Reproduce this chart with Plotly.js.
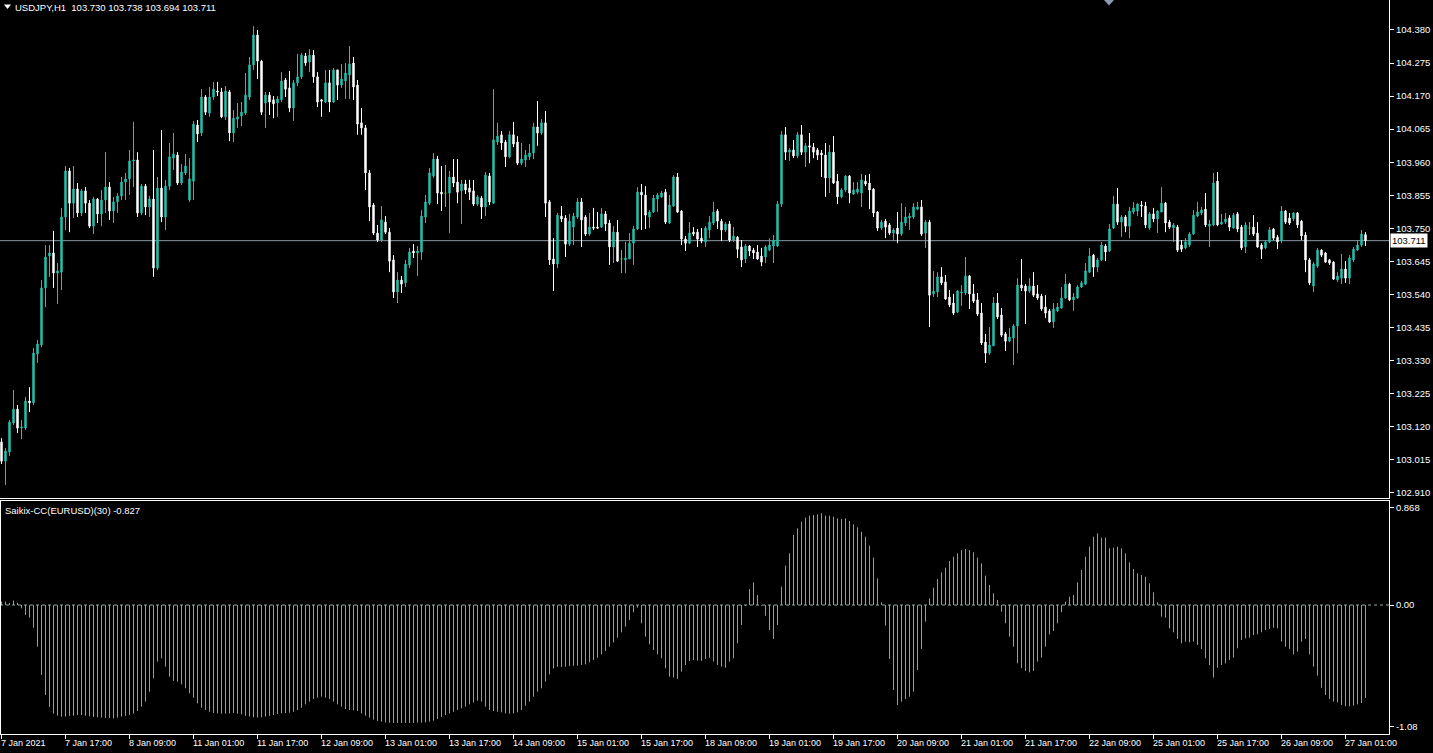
<!DOCTYPE html>
<html><head><meta charset="utf-8">
<script src="https://cdn.plot.ly/plotly-3.0.1.min.js"></script>
<style>html,body{margin:0;padding:0;background:#000;overflow:hidden}#chart{width:1433px;height:753px}</style>
</head><body><div id="chart"></div>
<script>
const symbolName = 'USDJPY,H1';
const indicatorName = 'Saikix-CC(EURUSD)(30)';

const openP = [
103.072,103.011,103.040,103.132,103.176,103.116,103.116,103.202,103.196,103.351,
103.380,103.561,103.662,103.672,103.608,103.611,103.786,103.932,103.830,103.875,
103.799,103.869,103.830,103.757,103.843,103.796,103.840,103.881,103.805,103.834,
103.853,103.897,103.907,103.964,103.967,103.799,103.884,103.818,103.843,103.624,
103.878,103.786,103.884,103.973,103.983,103.894,103.926,103.840,103.900,104.078,
104.053,104.167,104.116,104.167,104.186,104.183,104.104,104.183,104.053,104.097,
104.107,104.116,104.167,104.269,104.364,104.281,104.148,104.173,104.158,104.148,
104.158,104.221,104.196,104.132,104.212,104.231,104.297,104.278,104.300,104.231,
104.158,104.151,104.212,104.151,104.253,104.205,104.218,104.237,104.275,104.205,
104.085,104.069,103.926,103.824,103.735,103.713,103.770,103.738,103.650,103.548,
103.586,103.577,103.634,103.678,103.672,103.675,103.786,103.830,103.916,103.970,
103.865,103.862,103.862,103.913,103.897,103.869,103.891,103.878,103.869,103.827,
103.846,103.818,103.916,103.830,104.024,104.047,104.024,103.977,104.047,104.024,
103.957,103.967,103.977,103.989,104.072,104.053,104.085,103.834,103.653,103.637,
103.789,103.783,103.700,103.754,103.786,103.834,103.786,103.732,103.754,103.754,
103.754,103.796,103.767,103.691,103.738,103.653,103.650,103.653,103.703,103.748,
103.865,103.856,103.786,103.802,103.843,103.850,103.865,103.767,103.821,103.913,
103.805,103.716,103.703,103.738,103.738,103.719,103.707,103.745,103.767,103.805,
103.773,103.745,103.764,103.713,103.722,103.691,103.653,103.694,103.681,103.675,
103.662,103.659,103.681,103.694,103.694,103.827,104.047,103.992,103.999,103.980,
104.047,103.992,104.012,104.008,103.999,103.989,103.983,103.910,103.992,103.900,
103.850,103.872,103.916,103.859,103.865,103.862,103.900,103.894,103.875,103.802,
103.751,103.773,103.761,103.735,103.751,103.732,103.767,103.783,103.786,103.811,
103.818,103.735,103.770,103.542,103.548,103.596,103.580,103.532,103.513,103.484,
103.545,103.545,103.599,103.542,103.523,103.481,103.389,103.354,103.377,103.513,
103.475,103.415,103.392,103.402,103.440,103.570,103.567,103.551,103.567,103.542,
103.535,103.500,103.488,103.453,103.488,103.497,103.529,103.573,103.523,103.529,
103.564,103.573,103.611,103.665,103.627,103.650,103.694,103.678,103.751,103.827,
103.770,103.786,103.757,103.802,103.805,103.824,103.821,103.751,103.796,103.780,
103.802,103.830,103.770,103.751,103.754,103.697,103.688,103.697,103.732,103.789,
103.799,103.811,103.757,103.761,103.900,103.764,103.770,103.783,103.751,103.796,
103.754,103.691,103.751,103.754,103.735,103.697,103.688,103.707,103.748,103.722,
103.710,103.805,103.783,103.780,103.799,103.773,103.729,103.650,103.567,103.630,
103.681,103.672,103.650,103.643,103.586,103.592,103.621,103.592,103.650,103.681,
103.697,103.730];

const highP = [
103.084,103.053,103.142,103.237,103.189,103.142,103.215,103.246,103.370,103.396,
103.586,103.697,103.697,103.742,103.640,103.815,103.948,103.942,103.948,103.894,
103.875,103.881,103.840,103.850,103.846,103.872,103.992,103.897,103.850,103.862,
103.913,103.926,103.999,104.088,103.992,103.891,103.891,103.853,103.999,103.913,
104.062,103.904,104.021,104.053,103.992,103.954,103.986,103.973,104.091,104.094,
104.192,104.173,104.199,104.215,104.215,104.196,104.202,104.189,104.126,104.148,
104.151,104.243,104.294,104.392,104.380,104.285,104.183,104.183,104.170,104.170,
104.246,104.227,104.250,104.221,104.304,104.307,104.307,104.319,104.316,104.246,
104.161,104.253,104.253,104.259,104.253,104.272,104.275,104.329,104.294,104.221,
104.132,104.078,103.935,103.830,103.761,103.821,103.789,103.751,103.665,103.611,
103.599,103.650,103.688,103.700,103.694,103.808,103.856,103.942,103.989,103.980,
103.948,103.951,103.932,103.970,103.970,103.904,103.904,103.904,103.904,103.856,
103.853,103.929,103.926,104.192,104.085,104.059,104.031,104.059,104.088,104.043,
104.021,103.999,104.018,104.085,104.154,104.097,104.123,103.840,103.719,103.799,
103.821,103.792,103.796,103.799,103.846,103.846,103.792,103.799,103.815,103.802,
103.815,103.805,103.777,103.757,103.777,103.681,103.707,103.735,103.757,103.881,
103.891,103.884,103.808,103.856,103.862,103.869,103.875,103.856,103.919,103.926,
103.808,103.726,103.770,103.754,103.748,103.751,103.757,103.789,103.834,103.811,
103.780,103.770,103.773,103.754,103.726,103.713,103.700,103.697,103.688,103.697,
103.688,103.697,103.719,103.729,103.837,104.059,104.072,104.005,104.031,104.056,
104.078,104.021,104.053,104.021,104.005,103.999,104.021,104.015,104.043,103.923,
103.878,103.919,103.919,103.897,103.897,103.923,103.919,103.923,103.878,103.805,
103.777,103.780,103.767,103.751,103.802,103.830,103.818,103.799,103.830,103.834,
103.840,103.777,103.777,103.615,103.611,103.627,103.602,103.554,103.542,103.554,
103.570,103.659,103.602,103.573,103.545,103.513,103.415,103.437,103.532,103.545,
103.497,103.421,103.434,103.446,103.592,103.653,103.573,103.592,103.611,103.570,
103.542,103.538,103.494,103.513,103.513,103.564,103.605,103.577,103.545,103.570,
103.583,103.640,103.688,103.669,103.656,103.707,103.700,103.764,103.853,103.878,
103.792,103.792,103.818,103.834,103.830,103.837,103.834,103.802,103.815,103.808,
103.881,103.834,103.777,103.767,103.761,103.713,103.719,103.738,103.808,103.834,
103.818,103.862,103.777,103.926,103.929,103.796,103.799,103.792,103.799,103.802,
103.761,103.770,103.770,103.792,103.770,103.703,103.713,103.754,103.751,103.729,
103.821,103.808,103.799,103.802,103.802,103.777,103.738,103.656,103.643,103.688,
103.684,103.675,103.653,103.646,103.611,103.669,103.646,103.665,103.691,103.713,
103.745,103.738];

const lowP = [
103.002,102.935,103.027,103.126,103.100,103.081,103.110,103.167,103.189,103.323,
103.373,103.500,103.596,103.561,103.510,103.554,103.745,103.738,103.783,103.786,
103.789,103.799,103.751,103.732,103.767,103.757,103.799,103.777,103.767,103.799,
103.840,103.840,103.856,103.881,103.786,103.792,103.792,103.786,103.596,103.618,
103.770,103.745,103.872,103.935,103.888,103.888,103.919,103.834,103.840,104.024,
104.043,104.110,104.104,104.158,104.170,104.100,104.094,104.027,104.024,104.069,
104.075,104.110,104.158,104.253,104.224,104.110,104.069,104.110,104.100,104.104,
104.151,104.167,104.119,104.091,104.202,104.224,104.266,104.246,104.212,104.135,
104.104,104.148,104.119,104.148,104.158,104.196,104.161,104.161,104.158,104.047,
104.047,103.872,103.773,103.729,103.707,103.707,103.732,103.611,103.529,103.513,
103.545,103.564,103.624,103.656,103.599,103.650,103.767,103.824,103.910,103.827,
103.805,103.818,103.735,103.881,103.830,103.764,103.859,103.840,103.821,103.821,
103.780,103.789,103.824,103.827,104.015,103.999,103.945,103.973,104.008,103.951,
103.951,103.945,103.967,103.970,104.012,104.047,103.786,103.634,103.551,103.624,
103.770,103.659,103.694,103.697,103.780,103.691,103.726,103.726,103.745,103.748,
103.751,103.742,103.634,103.640,103.643,103.608,103.608,103.653,103.634,103.745,
103.745,103.748,103.751,103.799,103.802,103.846,103.764,103.764,103.818,103.799,
103.697,103.678,103.700,103.726,103.691,103.703,103.691,103.719,103.761,103.748,
103.710,103.738,103.707,103.707,103.656,103.627,103.640,103.662,103.653,103.650,
103.630,103.640,103.678,103.640,103.691,103.818,103.967,103.964,103.973,103.973,
103.983,103.945,103.957,103.973,103.967,103.913,103.850,103.862,103.891,103.827,
103.846,103.865,103.830,103.856,103.859,103.818,103.884,103.811,103.786,103.742,
103.745,103.719,103.729,103.710,103.703,103.726,103.757,103.745,103.780,103.808,
103.726,103.688,103.437,103.532,103.532,103.570,103.523,103.500,103.475,103.481,
103.504,103.538,103.494,103.513,103.472,103.380,103.323,103.348,103.377,103.462,
103.405,103.361,103.389,103.316,103.354,103.551,103.446,103.545,103.532,103.523,
103.488,103.465,103.449,103.434,103.484,103.494,103.526,103.519,103.488,103.526,
103.561,103.570,103.608,103.596,103.611,103.646,103.646,103.675,103.748,103.761,
103.723,103.738,103.719,103.796,103.789,103.786,103.751,103.745,103.770,103.735,
103.802,103.738,103.748,103.707,103.675,103.675,103.684,103.691,103.729,103.786,
103.792,103.754,103.691,103.757,103.757,103.761,103.764,103.742,103.748,103.738,
103.681,103.672,103.729,103.726,103.688,103.653,103.684,103.703,103.713,103.684,
103.703,103.764,103.761,103.773,103.751,103.713,103.611,103.570,103.548,103.624,
103.659,103.640,103.634,103.586,103.580,103.573,103.577,103.573,103.643,103.678,
103.691,103.694];

const closeP = [
103.011,103.043,103.135,103.176,103.116,103.119,103.202,103.196,103.354,103.383,
103.561,103.659,103.672,103.608,103.615,103.786,103.932,103.830,103.875,103.799,
103.869,103.830,103.757,103.843,103.796,103.840,103.881,103.805,103.834,103.853,
103.897,103.907,103.964,103.967,103.799,103.884,103.818,103.843,103.624,103.878,
103.786,103.884,103.977,103.986,103.894,103.929,103.948,103.907,104.081,104.050,
104.167,104.119,104.167,104.192,104.183,104.104,104.186,104.053,104.100,104.104,
104.119,104.173,104.269,104.364,104.281,104.119,104.173,104.151,104.145,104.161,
104.218,104.192,104.132,104.212,104.231,104.300,104.275,104.300,104.231,104.151,
104.154,104.212,104.151,104.253,104.205,104.224,104.243,104.272,104.199,104.081,
104.069,103.926,103.818,103.735,103.713,103.777,103.738,103.646,103.548,103.586,
103.573,103.637,103.675,103.672,103.678,103.789,103.834,103.926,103.970,103.862,
103.859,103.862,103.913,103.894,103.865,103.891,103.872,103.865,103.827,103.850,
103.818,103.919,103.834,104.031,104.043,104.021,103.977,104.047,104.018,103.957,
103.970,103.983,103.989,104.072,104.053,104.085,103.830,103.650,103.637,103.792,
103.780,103.700,103.773,103.789,103.834,103.777,103.732,103.754,103.751,103.751,
103.796,103.764,103.691,103.738,103.646,103.653,103.656,103.703,103.748,103.865,
103.856,103.792,103.802,103.846,103.856,103.862,103.770,103.824,103.913,103.802,
103.716,103.703,103.735,103.732,103.716,103.710,103.751,103.770,103.802,103.773,
103.745,103.764,103.713,103.726,103.684,103.650,103.694,103.678,103.672,103.653,
103.643,103.691,103.697,103.713,103.827,104.047,103.992,103.999,103.980,104.047,
103.992,104.012,104.008,103.992,103.983,103.983,103.910,103.992,103.894,103.850,
103.872,103.916,103.862,103.872,103.875,103.904,103.891,103.872,103.799,103.751,
103.770,103.754,103.735,103.745,103.732,103.770,103.786,103.789,103.818,103.818,
103.732,103.770,103.538,103.551,103.596,103.577,103.526,103.507,103.481,103.551,
103.548,103.599,103.542,103.519,103.478,103.386,103.354,103.380,103.513,103.469,
103.411,103.392,103.405,103.440,103.570,103.561,103.551,103.567,103.538,103.529,
103.494,103.481,103.453,103.494,103.500,103.529,103.573,103.523,103.532,103.564,
103.577,103.615,103.662,103.627,103.650,103.697,103.675,103.748,103.827,103.770,
103.786,103.757,103.805,103.815,103.827,103.821,103.761,103.796,103.780,103.805,
103.830,103.767,103.754,103.761,103.681,103.684,103.707,103.732,103.792,103.802,
103.808,103.761,103.764,103.894,103.761,103.770,103.780,103.754,103.792,103.748,
103.688,103.761,103.751,103.732,103.691,103.684,103.707,103.745,103.719,103.707,
103.805,103.770,103.767,103.799,103.761,103.726,103.650,103.577,103.637,103.681,
103.665,103.643,103.640,103.589,103.599,103.621,103.592,103.656,103.684,103.697,
103.732,103.711];

const ccValues = [
0.030,0.030,0.020,0.040,0.020,-0.030,-0.089,-0.113,-0.202,-0.371,
-0.623,-0.801,-0.908,-0.967,-0.985,-0.993,-0.993,-0.987,-0.985,-0.979,
-0.979,-0.985,-0.990,-0.996,-0.999,-1.002,-1.005,-1.005,-1.008,-1.002,
-0.993,-0.987,-0.979,-0.967,-0.943,-0.904,-0.860,-0.771,-0.652,-0.504,
-0.474,-0.549,-0.638,-0.676,-0.682,-0.706,-0.741,-0.786,-0.825,-0.875,
-0.914,-0.934,-0.949,-0.961,-0.964,-0.967,-0.967,-0.964,-0.961,-0.967,
-0.973,-0.985,-0.993,-0.999,-1.002,-0.999,-0.993,-0.987,-0.979,-0.970,
-0.964,-0.961,-0.958,-0.949,-0.934,-0.914,-0.884,-0.860,-0.836,-0.825,
-0.816,-0.825,-0.836,-0.860,-0.884,-0.904,-0.926,-0.934,-0.937,-0.943,
-0.964,-0.985,-1.002,-1.020,-1.032,-1.038,-1.044,-1.047,-1.050,-1.050,
-1.050,-1.050,-1.050,-1.050,-1.047,-1.047,-1.044,-1.038,-1.029,-1.014,
-0.996,-0.979,-0.964,-0.949,-0.934,-0.920,-0.904,-0.884,-0.866,-0.851,
-0.860,-0.904,-0.934,-0.943,-0.949,-0.955,-0.964,-0.967,-0.964,-0.955,
-0.934,-0.896,-0.860,-0.816,-0.771,-0.741,-0.682,-0.617,-0.563,-0.549,
-0.552,-0.549,-0.543,-0.540,-0.540,-0.534,-0.528,-0.510,-0.489,-0.469,
-0.439,-0.409,-0.371,-0.332,-0.291,-0.243,-0.193,-0.133,-0.065,-0.024,
-0.163,-0.282,-0.350,-0.400,-0.439,-0.474,-0.563,-0.638,-0.646,-0.658,
-0.593,-0.534,-0.498,-0.489,-0.495,-0.498,-0.480,-0.470,-0.504,-0.534,
-0.549,-0.558,-0.504,-0.474,-0.341,-0.178,-0.010,0.142,0.202,0.089,
-0.006,-0.095,-0.222,-0.302,-0.178,0.163,0.350,0.460,0.623,0.682,
0.741,0.777,0.795,0.801,0.807,0.816,0.795,0.795,0.786,0.771,
0.765,0.771,0.747,0.718,0.691,0.652,0.608,0.528,0.421,0.237,
0.024,-0.184,-0.480,-0.756,-0.890,-0.860,-0.836,-0.816,-0.771,-0.578,
-0.391,-0.148,0.059,0.154,0.231,0.290,0.332,0.391,0.430,0.460,
0.489,0.498,0.489,0.469,0.421,0.371,0.261,0.178,0.104,0.044,
-0.059,-0.163,-0.282,-0.371,-0.519,-0.563,-0.587,-0.599,-0.587,-0.504,
-0.469,-0.371,-0.261,-0.231,-0.163,-0.065,0.030,0.074,0.089,0.202,
0.311,0.430,0.519,0.608,0.638,0.599,0.599,0.504,0.510,0.519,
0.504,0.460,0.380,0.320,0.282,0.267,0.252,0.193,0.113,0.024,
-0.104,-0.113,-0.208,-0.243,-0.302,-0.341,-0.326,-0.332,-0.326,-0.356,
-0.391,-0.474,-0.534,-0.646,-0.558,-0.534,-0.519,-0.489,-0.469,-0.385,
-0.311,-0.297,-0.291,-0.267,-0.261,-0.243,-0.222,-0.213,-0.202,-0.208,
-0.326,-0.371,-0.391,-0.439,-0.415,-0.326,-0.302,-0.439,-0.549,-0.629,
-0.736,-0.801,-0.836,-0.860,-0.866,-0.890,-0.901,-0.901,-0.895,-0.884,
-0.872,-0.827];

const priceTicks = [104.380,104.275,104.170,104.065,103.960,103.855,103.750,103.645,103.540,103.435,103.330,103.225,103.120,103.015,102.910];
const ccTicks = [0.868, 0.00, -1.08];
const ccTickText = ['0.868', '0.00', '-1.08'];
const timeTickIdx = [0,16,32,48,64,80,96,112,128,144,160,176,192,208,224,240,256,272,288,304,320,336];
const timeTickText = ['7 Jan 2021','7 Jan 17:00','8 Jan 09:00','11 Jan 01:00','11 Jan 17:00','12 Jan 09:00','13 Jan 01:00','13 Jan 17:00','14 Jan 09:00','15 Jan 01:00','15 Jan 17:00','18 Jan 09:00','19 Jan 01:00','19 Jan 17:00','20 Jan 09:00','21 Jan 01:00','21 Jan 17:00','22 Jan 09:00','25 Jan 01:00','25 Jan 17:00','26 Jan 09:00','27 Jan 01:00'];

// ---- styling / geometry ----
const W = 1433, H = 753, MR = 44, MB = 19;
const PW = W - MR, PH = H - MB;
const PX_PER_BAR = 4, FIRST_CENTER = 1.5;
const xr0 = -FIRST_CENTER / PX_PER_BAR, xr1 = xr0 + PW / PX_PER_BAR;
const mainBottomPx = 498, subTopPx = 500.5;
const PX_PER_PRICE = 315, PRICE_AT_TOP = 104.475;
const PX_PER_CC = 112.4, CC_ZERO_PX = 605;

const TEAL = '#24c1ae', WHITE = '#ffffff', DOJI = '#66cc44', HIST = '#52bea0';
const FONT = 'Liberation Sans, Arial, DejaVu Sans, sans-serif';

const px = v => v / PW, py = v => 1 - v / PH;

const idx = closeP.map((_, i) => i);
const isDoji = i => openP[i] === closeP[i];
const mainIdx = idx.filter(i => !isDoji(i));
const dojiIdx = idx.filter(isDoji);
const pick = (arr, ids) => ids.map(i => arr[i]);

const candle = (ids, upCol, downCol) => ({
  type: 'candlestick', xaxis: 'x', yaxis: 'y',
  x: ids, open: pick(openP, ids), high: pick(highP, ids), low: pick(lowP, ids), close: pick(closeP, ids),
  increasing: {line: {color: upCol, width: 1}, fillcolor: upCol},
  decreasing: {line: {color: downCol, width: 1}, fillcolor: downCol},
  line: {width: 1}, whiskerwidth: 0, hoverinfo: 'none', showlegend: false
});

// histogram drawn as 1px vertical segments from zero to each value
const histX = [], histY = [];
ccValues.forEach((v, i) => { histX.push(i, i, null); histY.push(0, v, null); });

const traces = [
  candle(mainIdx, TEAL, WHITE),
  candle(dojiIdx, DOJI, DOJI),
  {type: 'scatter', mode: 'lines', xaxis: 'x2', yaxis: 'y2', x: histX, y: histY, connectgaps: false,
   line: {color: HIST, width: 1}, hoverinfo: 'none', showlegend: false}
];

const last = closeP.length - 1;
const lastPrice = closeP[last];
const headerText = symbolName + '\u00a0\u00a0' + [openP[last], highP[last], lowP[last], closeP[last]].map(v => v.toFixed(3)).join(' ');
const indText = indicatorName + ' ' + ccValues[last].toFixed(3);

const priceTop = PRICE_AT_TOP, priceBottom = PRICE_AT_TOP - mainBottomPx / PX_PER_PRICE;
const ccTop = (CC_ZERO_PX - subTopPx) / PX_PER_CC, ccBottom = (CC_ZERO_PX - PH) / PX_PER_CC;

const axisCommon = {showgrid: false, zeroline: false, fixedrange: true, linecolor: WHITE, linewidth: 1, tickcolor: WHITE};

const annotations = [
  {xref: 'paper', yref: 'paper', x: px(13), y: py(7.3), xanchor: 'left', yanchor: 'middle', showarrow: false,
   text: headerText, font: {family: FONT, size: 9.5, color: WHITE}},
  {xref: 'paper', yref: 'paper', x: px(2.5), y: py(510), xanchor: 'left', yanchor: 'middle', showarrow: false,
   text: indText, font: {family: FONT, size: 9.5, color: WHITE}},
  {xref: 'paper', yref: 'y', x: 1, xshift: 1, y: lastPrice, xanchor: 'left', yanchor: 'middle', showarrow: false,
   text: lastPrice.toFixed(3), bgcolor: WHITE, borderpad: 1, font: {family: FONT, size: 9.5, color: '#000'}}
];
timeTickIdx.forEach((t, k) => annotations.push({
  xref: 'x2', yref: 'paper', x: t, y: 0, xanchor: 'left', yanchor: 'top', xshift: -3, yshift: -2,
  showarrow: false, text: timeTickText[k], font: {family: FONT, size: 9, color: WHITE}
}));

const shapes = [
  {type: 'line', xref: 'x', yref: 'y', x0: xr0, x1: xr1, y0: lastPrice, y1: lastPrice,
   line: {color: '#8a96a3', width: 1}, layer: 'below'},
  {type: 'line', xref: 'x2', yref: 'y2', x0: xr0, x1: xr1, y0: 0, y1: 0,
   line: {color: '#8fa8a0', width: 1, dash: 'dot'}, layer: 'below'},
  {type: 'line', xref: 'paper', yref: 'paper', x0: px(0.5), x1: px(0.5), y0: 0, y1: py(subTopPx),
   line: {color: WHITE, width: 1}},
  {type: 'path', xref: 'paper', yref: 'paper',
   path: `M ${px(4)} ${py(4.5)} L ${px(11)} ${py(4.5)} L ${px(7.5)} ${py(9)} Z`,
   fillcolor: WHITE, line: {width: 0}},
  {type: 'path', xref: 'paper', yref: 'paper',
   path: `M ${px(1104)} ${py(0)} L ${px(1114)} ${py(0)} L ${px(1109)} ${py(5.5)} Z`,
   fillcolor: '#8b9aae', line: {width: 0}}
];

const layout = {
  width: W, height: H, margin: {l: 0, r: MR, t: 0, b: MB, pad: 0},
  paper_bgcolor: '#000', plot_bgcolor: '#000', showlegend: false,
  boxgap: 0.5, boxmode: 'overlay',
  font: {family: FONT, size: 9.5, color: WHITE},
  xaxis: Object.assign({}, axisCommon, {domain: [0, 1], anchor: 'y', range: [xr0, xr1], showline: true,
    ticks: '', showticklabels: false, rangeslider: {visible: false}}),
  xaxis2: Object.assign({}, axisCommon, {domain: [0, 1], anchor: 'y2', range: [xr0, xr1], showline: true, mirror: true,
    tickmode: 'array', tickvals: timeTickIdx, ticks: 'outside', ticklen: 4, showticklabels: false,
    rangeslider: {visible: false}}),
  yaxis: Object.assign({}, axisCommon, {domain: [py(mainBottomPx), 1], anchor: 'x', side: 'right',
    range: [priceBottom, priceTop], showline: true, tickmode: 'array', tickvals: priceTicks,
    ticktext: priceTicks.map(v => v.toFixed(3)), ticks: 'outside', ticklen: 4,
    tickfont: {family: FONT, size: 9.5, color: WHITE}}),
  yaxis2: Object.assign({}, axisCommon, {domain: [0, py(subTopPx)], anchor: 'x2', side: 'right',
    range: [ccBottom, ccTop], showline: true, tickmode: 'array', tickvals: ccTicks, ticktext: ccTickText,
    ticks: 'outside', ticklen: 4, tickfont: {family: FONT, size: 9.5, color: WHITE}}),
  shapes: shapes,
  annotations: annotations
};

Plotly.newPlot('chart', traces, layout, {staticPlot: true, displayModeBar: false});
</script>
</body></html>
